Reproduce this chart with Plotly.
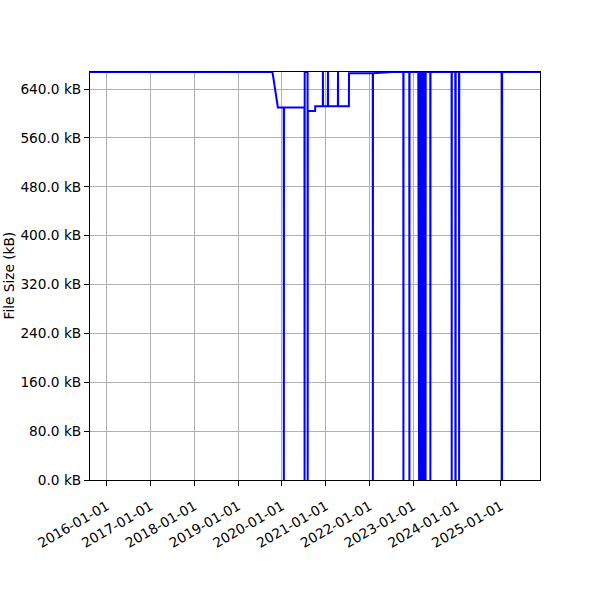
import plotly.graph_objects as go

dates = [
    "2015-08-13", "2019-10-14", "2019-11-28",
    "2020-01-16", "2020-01-17", "2020-01-18",
    "2020-07-07", "2020-07-08", "2020-07-09",
    "2020-08-02", "2020-08-03", "2020-08-04",
    "2020-10-04", "2020-10-05",
    "2020-12-07", "2020-12-08", "2020-12-09",
    "2021-01-18", "2021-01-19", "2021-01-20",
    "2021-04-12", "2021-04-13", "2021-04-14",
    "2021-07-13", "2021-07-14",
    "2022-01-28", "2022-01-29", "2022-01-30",
    "2022-07-11",
    "2022-10-10", "2022-10-11", "2022-10-12",
    "2022-11-29", "2022-11-30", "2022-12-01",
    "2023-02-12", "2023-02-13", "2023-02-16", "2023-02-19", "2023-02-22",
    "2023-02-25", "2023-02-28", "2023-03-03", "2023-03-06", "2023-03-09",
    "2023-03-12", "2023-03-15", "2023-03-18", "2023-03-21", "2023-03-24",
    "2023-03-27", "2023-03-30", "2023-04-02", "2023-04-05", "2023-04-08",
    "2023-04-11", "2023-04-14", "2023-04-15",
    "2023-05-23", "2023-05-24", "2023-05-25",
    "2023-11-17", "2023-11-18", "2023-11-19",
    "2023-12-18", "2023-12-19", "2023-12-20",
    "2024-01-18", "2024-01-19", "2024-01-20",
    "2025-01-10", "2025-01-11", "2025-01-12",
    "2025-11-24",
]

sizes_kb = [
    668, 668, 610,
    610, 0, 610,
    610, 0, 668,
    668, 0, 604,
    604, 612,
    612, 668, 612,
    612, 668, 612,
    612, 668, 612,
    612, 666,
    666, 0, 666,
    668,
    668, 0, 668,
    668, 0, 668,
    668, 0, 668, 0, 668,
    0, 668, 0, 668, 0,
    668, 0, 668, 0, 668,
    0, 668, 0, 668, 0,
    668, 0, 668,
    668, 0, 668,
    668, 0, 668,
    668, 0, 668,
    668, 0, 668,
    668, 0, 668,
    668,
]

y_ticks = [0, 80, 160, 240, 320, 400, 480, 560, 640]
y_tick_labels = ["0.0 kB", "80.0 kB", "160.0 kB", "240.0 kB", "320.0 kB",
                 "400.0 kB", "480.0 kB", "560.0 kB", "640.0 kB"]
x_ticks = ["2016-01-01", "2017-01-01", "2018-01-01", "2019-01-01", "2020-01-01",
           "2021-01-01", "2022-01-01", "2023-01-01", "2024-01-01", "2025-01-01"]
y_title = "File Size (kB)"

fig = go.Figure()
fig.add_trace(go.Scatter(
    x=dates, y=sizes_kb, mode="lines",
    line=dict(color="blue", width=2),
    showlegend=False,
))

axis_common = dict(
    showline=True, linecolor="black", linewidth=1, mirror=True,
    ticks="outside", ticklen=5, tickwidth=1, tickcolor="black",
    showgrid=True, gridcolor="#b0b0b0", gridwidth=1,
    zeroline=False, automargin=False,
    tickfont=dict(family="DejaVu Sans", size=13.7, color="black"),
)

fig.update_layout(
    width=600, height=600,
    margin=dict(l=90, r=60, t=72, b=120),
    paper_bgcolor="white", plot_bgcolor="white",
    font=dict(family="DejaVu Sans", size=13.7, color="black"),
    xaxis=dict(
        type="date",
        range=["2015-08-13", "2025-11-24"],
        tickvals=x_ticks, ticktext=x_ticks,
        tickangle=-30, ticklabelstandoff=7,
        **axis_common,
    ),
    yaxis=dict(
        range=[0, 668],
        tickvals=y_ticks, ticktext=y_tick_labels,
        **axis_common,
    ),
    annotations=[dict(
        text=y_title, textangle=-90,
        xref="paper", yref="paper",
        x=(8.5 - 90) / 450, y=0.5,
        xanchor="center", yanchor="middle",
        showarrow=False,
        font=dict(family="DejaVu Sans", size=13.7, color="black"),
    )],
)

fig.write_html("out.html", config={"displayModeBar": False},
               post_script="document.body.style.margin='0';")
